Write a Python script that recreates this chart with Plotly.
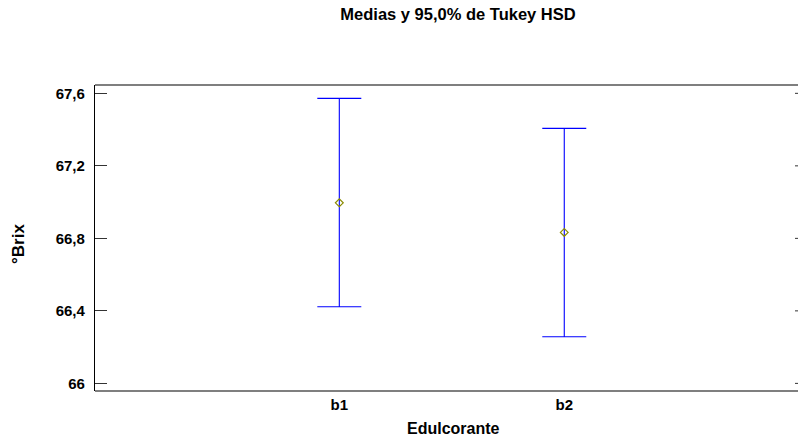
import plotly.graph_objects as go

categories = ["b1", "b2"]
positions = [1, 2]
means = [66.996, 66.833]
upper = [67.572, 67.407]
lower = [66.423, 66.257]
ytick_vals = [66.0, 66.4, 66.8, 67.2, 67.6]
ytick_text = ["66", "66,4", "66,8", "67,2", "67,6"]

err_plus = [u - m for u, m in zip(upper, means)]
err_minus = [m - l for m, l in zip(means, lower)]

FONT = "Liberation Sans, Arial, sans-serif"
yrange = [65.958, 67.646]
FS = 15
W, H = 798, 439
L, R, T, B = 95, 0, 85, 48
pw, ph = W - L - R, H - T - B

fig = go.Figure()
fig.add_trace(go.Scatter(
    x=positions, y=means, mode="markers",
    marker=dict(symbol="diamond-open", size=6, color="#8b8b00", line=dict(width=1.2, color="#8b8b00")),
    error_y=dict(type="data", symmetric=False, array=err_plus, arrayminus=err_minus,
                 color="#0000ff", thickness=1.1, width=22),
    showlegend=False, hoverinfo="skip",
))

fig.update_layout(
    width=W, height=H,
    margin=dict(l=L, r=R, t=T, b=B),
    paper_bgcolor="white", plot_bgcolor="white",
    font=dict(family=FONT, color="black"),
    title=dict(text="<b>Medias y 95,0% de Tukey HSD</b>", x=458 / W, xanchor="center",
               y=1 - 14 / H, yanchor="middle", yref="container",
               font=dict(size=16.5, family=FONT, color="black")),
    xaxis=dict(range=[-0.086, 3.039], tickvals=positions, ticktext=["<b>%s</b>" % c for c in categories],
               showgrid=False, zeroline=False, showline=False,
               ticks="", ticklabelstandoff=3,
               tickfont=dict(size=FS, family=FONT, color="black")),
    yaxis=dict(range=yrange, tickvals=ytick_vals, ticktext=["<b>%s</b>" % t for t in ytick_text],
               showgrid=False, zeroline=False, showline=True, linecolor="black", linewidth=1.2,
               ticks="inside", ticklen=12, tickwidth=1, tickcolor="#333333", ticklabelstandoff=6,
               tickfont=dict(size=FS, family=FONT, color="black")),
    annotations=[
        dict(text="<b>Edulcorante</b>", xref="paper", yref="paper",
             x=(453 - L) / pw, y=-(428 - (T + ph)) / ph, xanchor="center", yanchor="middle",
             showarrow=False, font=dict(size=16, family=FONT, color="black")),
        dict(text="<b>°Brix</b>", xref="paper", yref="paper", textangle=-90,
             x=-(L - 18) / pw, y=1 - (244 - T) / ph, xanchor="center", yanchor="middle",
             showarrow=False, font=dict(size=17, family=FONT, color="black")),
    ],
)

# top and bottom frame lines (open on the right, as in the original)
for yy in (0, 1):
    fig.add_shape(type="line", xref="paper", yref="paper", x0=0, x1=1, y0=yy, y1=yy,
                  line=dict(color="black", width=1.2))

# short inward tick marks on the right edge, one per y tick value
for v in ytick_vals:
    fig.add_shape(type="line", xref="paper", yref="y", x0=1 - 3 / pw, x1=1, y0=v, y1=v,
                  line=dict(color="#333333", width=1))

fig.write_html("out.html")
